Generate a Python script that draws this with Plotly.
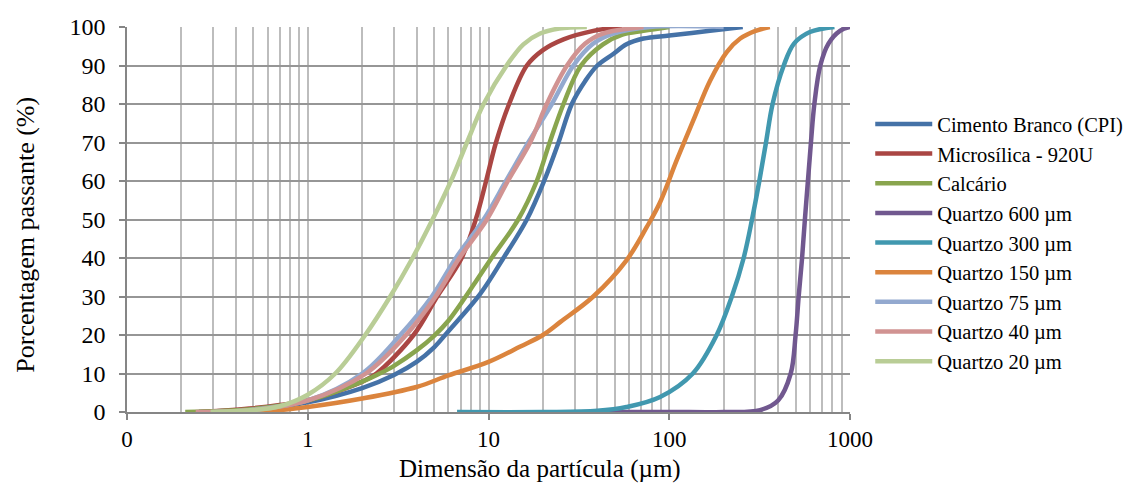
import plotly.graph_objects as go

# ---- data ----
series_names = ["Cimento Branco (CPI)", "Microsílica - 920U", "Calcário", "Quartzo 600 µm",
                "Quartzo 300 µm", "Quartzo 150 µm", "Quartzo 75 µm", "Quartzo 40 µm", "Quartzo 20 µm"]

cimento_x = [0.25, 0.5, 1, 2, 3, 4, 5, 6, 9, 12.1, 16.3, 20.3, 24.4, 28.9, 34.3, 40, 49, 58, 72, 100, 168, 255]
cimento_y = [0, 0.7, 2.5, 6.2, 9.6, 13, 16.8, 21, 30.7, 40, 50, 60, 70, 80, 86, 90, 93, 95.5, 97, 97.8, 99, 100]

micro_x = [0.25, 0.5, 0.7, 1, 2, 2.4, 3.85, 5.2, 7.1, 8.5, 9.7, 11.0, 13.0, 16.3, 20, 26, 38, 55]
micro_y = [0, 1, 1.8, 3, 7.9, 10, 20, 30, 40, 50, 60, 70, 80, 90, 94, 96.8, 99, 100]

calc_x = [0.21, 0.5, 1, 2, 2.5, 3, 4, 5, 6, 8.6, 10.4, 14.6, 18.5, 21.8, 26, 32.5, 43, 55, 72, 100]
calc_y = [0, 0.8, 3, 7.9, 10, 12, 16, 19.8, 23.7, 34.2, 40, 50, 60, 70, 80, 90, 95.5, 98, 99, 100]

q600_x = [40, 100, 200, 318, 400, 470, 500, 520, 543, 563, 585, 608, 635, 685, 760, 880, 1000]
q600_y = [0, 0, 0, 0.5, 3, 10, 20, 30, 40, 50, 60, 70, 80, 90, 95.7, 99, 100]

q300_x = [6.7, 20, 40, 58, 89, 135, 183, 222, 258, 287, 315, 343, 373, 430, 490, 600, 820]
q300_y = [0, 0, 0.3, 1.3, 3.9, 10, 20, 30, 40, 50, 60, 70, 80, 90, 95.7, 98.7, 100]

q150_x = [0.4, 0.7, 1, 2, 4, 6, 10, 15, 20, 25, 38, 58, 75, 89, 110, 136, 168, 208, 247, 300, 360]
q150_y = [0, 0.5, 1.3, 3.5, 6.5, 9.5, 13, 17, 20, 23.4, 30, 39.4, 48, 54.5, 65.4, 75.8, 86, 93.5, 97, 99, 100]

q75_x = [0.3, 0.5, 1, 2, 3.25, 4.86, 6.6, 9.4, 12.5, 16.6, 22.4, 29.5, 38, 49, 78, 200]
q75_y = [0, 0.6, 3, 10, 20, 30, 40, 50, 60, 70, 80, 90, 95.7, 98.3, 100, 100]

q40_x = [0.24, 0.5, 1, 2.1, 3.5, 5.1, 6.9, 9.8, 12.8, 17, 21, 27.2, 34.3, 43, 72]
q40_y = [0, 0.5, 3, 10, 20, 30, 40, 50, 60, 70, 80, 90, 95.7, 98.3, 100]

q20_x = [0.29, 0.5, 0.7, 1, 1.42, 2.08, 2.86, 3.8, 4.9, 6.2, 7.6, 9.4, 12.6, 15.6, 19.3, 24.6, 35]
q20_y = [0, 0.5, 1.5, 4.5, 10, 20, 30, 40, 50, 60, 70, 80, 90, 95.5, 98.3, 99.6, 100]

x_tickvals = [0.1, 1, 10, 100, 1000]
x_ticktext = ["0", "1", "10", "100", "1000"]

x_title = "Dimensão da partícula (µm)"
y_title = "Porcentagem passante (%)"

colors = ["#4572A7", "#AA4643", "#89A54E", "#71588F", "#4198AF",
          "#DB843D", "#93A9CF", "#D19392", "#B9CD96"]

xs = [cimento_x, micro_x, calc_x, q600_x, q300_x, q150_x, q75_x, q40_x, q20_x]
ys = [cimento_y, micro_y, calc_y, q600_y, q300_y, q150_y, q75_y, q40_y, q20_y]

FONT = "Liberation Serif, Times New Roman, serif"

fig = go.Figure()
for name, x, y, c in zip(series_names, xs, ys, colors):
    fig.add_trace(go.Scatter(x=x, y=y, name=name, mode="lines",
                             line=dict(color=c, width=4.5, shape="spline", smoothing=1.0)))

# page body has an 8px margin, so the figure is 8px smaller than the window
fig.update_layout(
    width=1125, height=477,
    margin=dict(l=119, r=283, t=19, b=73, autoexpand=False),
    paper_bgcolor="white", plot_bgcolor="white",
    font=dict(family=FONT, size=23, color="black"),
    legend=dict(x=1.028, y=0.44, xanchor="left", yanchor="middle",
                font=dict(family=FONT, size=20.5, color="black"),
                tracegroupgap=0, itemwidth=57, bgcolor="rgba(0,0,0,0)"),
    showlegend=True,
    annotations=[
        dict(text=x_title, xref="paper", yref="paper", x=0.5714, y=0,
             xanchor="center", yanchor="middle", yshift=-57, showarrow=False,
             font=dict(family=FONT, size=25, color="black")),
        dict(text=y_title, xref="paper", yref="paper", x=-0.1406, y=0.4616,
             xanchor="center", yanchor="middle", textangle=-90, showarrow=False,
             font=dict(family=FONT, size=26, color="black")),
    ],
)

fig.update_xaxes(
    type="log", range=[-1, 3], automargin=False,
    tickmode="array", tickvals=x_tickvals, ticktext=x_ticktext,
    showgrid=True, gridcolor="#BDBDBD", gridwidth=1.5,
    minor=dict(dtick="D1", showgrid=True, gridcolor="#BDBDBD", gridwidth=1.5, ticks=""),
    showline=True, linecolor="#868686", linewidth=1.5,
    ticks="outside", ticklen=6, tickcolor="#868686", tickwidth=1.5,
    ticklabelstandoff=0,
    tickfont=dict(family=FONT, size=23),
    zeroline=False,
)
fig.update_yaxes(
    range=[0, 100], dtick=10, automargin=False,
    showgrid=True, gridcolor="#969696", gridwidth=1.5,
    showline=True, linecolor="#868686", linewidth=1.5,
    ticks="outside", ticklen=6, tickcolor="#868686", tickwidth=1.5,
    ticklabelstandoff=9,
    tickfont=dict(family=FONT, size=24),
    zeroline=False,
)

fig.write_html("out.html")
